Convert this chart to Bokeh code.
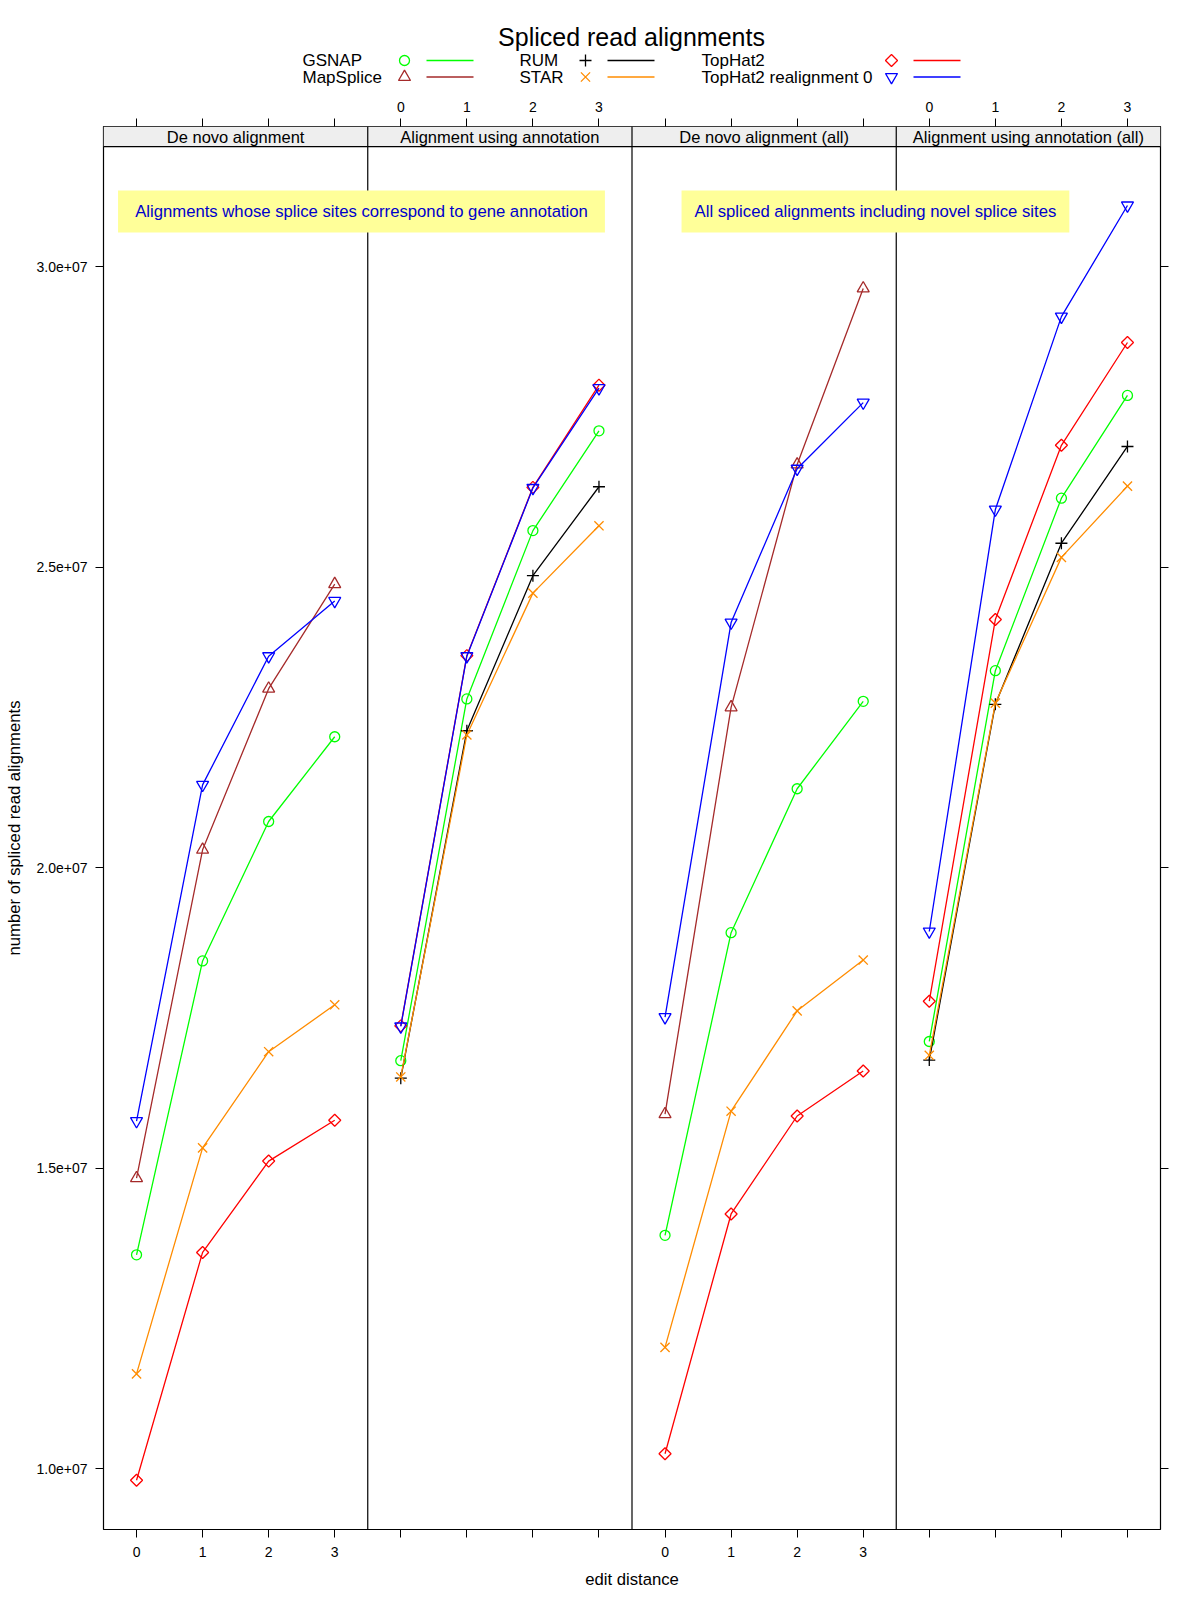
import math
from bokeh.plotting import figure
from bokeh.models import Range1d, LinearAxis, FixedTicker, ColumnDataSource
from bokeh.layouts import column
from bokeh.embed import file_html
from bokeh.resources import INLINE
from bokeh.core.properties import value

# ---------------- data ----------------
panels = ["De novo alignment", "Alignment using annotation",
          "De novo alignment (all)", "Alignment using annotation (all)"]
edit_distance = [0, 1, 2, 3]
methods = ["GSNAP", "MapSplice", "RUM", "STAR", "TopHat2", "TopHat2 realignment 0"]
colors = ["#00FF00", "#A52A2A", "#000000", "#FF8C00", "#FF0000", "#0000FF"]

# values per panel (None = method not shown in that panel)
gsnap = [[1.356e7, 1.845e7, 2.077e7, 2.218e7],
         [1.679e7, 2.281e7, 2.561e7, 2.727e7],
         [1.3885e7, 1.892e7, 2.1315e7, 2.277e7],
         [1.711e7, 2.328e7, 2.615e7, 2.786e7]]
mapsplice = [[1.4835e7, 2.030e7, 2.298e7, 2.472e7],
             None,
             [1.590e7, 2.267e7, 2.671e7, 2.964e7],
             None]
rum = [None,
       [1.650e7, 2.228e7, 2.486e7, 2.634e7],
       None,
       [1.680e7, 2.272e7, 2.540e7, 2.701e7]]
star = [[1.158e7, 1.534e7, 1.694e7, 1.772e7],
        [1.652e7, 2.221e7, 2.457e7, 2.569e7],
        [1.202e7, 1.595e7, 1.762e7, 1.8465e7],
        [1.688e7, 2.274e7, 2.5165e7, 2.635e7]]
tophat2 = [[9.81e6, 1.360e7, 1.512e7, 1.580e7],
           [1.737e7, 2.353e7, 2.633e7, 2.803e7],
           [1.025e7, 1.424e7, 1.587e7, 1.662e7],
           [1.778e7, 2.413e7, 2.703e7, 2.874e7]]
tophat2_realign0 = [[1.5785e7, 2.138e7, 2.352e7, 2.444e7],
                    [1.736e7, 2.352e7, 2.632e7, 2.798e7],
                    [1.7515e7, 2.408e7, 2.664e7, 2.774e7],
                    [1.894e7, 2.596e7, 2.917e7, 3.102e7]]
series = [gsnap, mapsplice, rum, star, tophat2, tophat2_realign0]

y_ticks = [1.0e7, 1.5e7, 2.0e7, 2.5e7, 3.0e7]
y_tick_labels = ["1.0e+07", "1.5e+07", "2.0e+07", "2.5e+07", "3.0e+07"]

notes = ["Alignments whose splice sites correspond to gene annotation",
         "All spliced alignments including novel splice sites"]

# ---------------- layout / style constants ----------------
FONT = "Liberation Sans"
W = 1184
HEAD_H = 90
MAIN_H = 1502
BL, BR = 103, 24           # left / right borders -> frame spans x 103..1160
FRAME_L, FRAME_R = BL, W - BR
marker_specs = [("circle", 10, 0.0), ("triangle", 12, 0.0), ("cross", 12, 0.0),
                ("x", 13, 0.0), ("square", 8.5, math.pi / 4), ("inverted_triangle", 12, 0.0)]

n_pan = len(panels)
n_ed = len(edit_distance)
x_lo, x_hi = -0.5, n_pan * n_ed - 0.5
y_lo, strip_lo, y_hi = 8.99e6, 3.2e7, 3.2334e7
note_x = [(-0.28, 7.09), (8.25, 14.12)]
note_y = (3.0569e7, 3.1268e7)

# ---------------- header (title + legend), page pixel coordinates ----------------
h = figure(width=W, height=HEAD_H, x_range=Range1d(FRAME_L, FRAME_R), y_range=Range1d(HEAD_H, 0),
           output_backend="svg", toolbar_location=None,
           x_axis_location=None, y_axis_location=None,
           min_border_left=BL, min_border_right=BR, min_border_top=0, min_border_bottom=0,
           outline_line_color=None)
h.grid.visible = False
h.text(x=[631], y=[36], text=["Spliced read alignments"], text_align="center",
       text_baseline="middle", text_font=value(FONT), text_font_size="25px", text_color="black")

col_text_x = [302, 519, 701]
col_sym_x = [404, 585, 891]
col_line_x = [(426, 473), (607, 654), (913, 960)]
row_y = [60, 76.5]
for i, (name, col, (mk, sz, ang)) in enumerate(zip(methods, colors, marker_specs)):
    c, r = i // 2, i % 2
    h.text(x=[col_text_x[c]], y=[row_y[r]], text=[name], text_align="left",
           text_baseline="middle", text_font=value(FONT), text_font_size="17px",
           text_color="black")
    h.scatter(x=[col_sym_x[c]], y=[row_y[r]], marker=mk, size=sz, angle=ang,
              line_color=col, fill_color=None, line_width=1.3)
    h.segment(x0=[col_line_x[c][0]], y0=[row_y[r]], x1=[col_line_x[c][1]], y1=[row_y[r]],
              line_color=col, line_width=1.3)

# ---------------- main panel figure ----------------
p = figure(width=W, height=MAIN_H, x_range=Range1d(x_lo, x_hi), y_range=Range1d(y_lo, y_hi),
           output_backend="svg", toolbar_location=None,
           x_axis_location=None, y_axis_location=None,
           min_border_left=BL, min_border_right=BR, min_border_top=36, min_border_bottom=63,
           outline_line_color="black", outline_line_width=1.2)
p.grid.visible = False

xt = [e + n_ed * i for i in range(n_pan) for e in edit_distance]
bot_over, top_over = {}, {}
for i in range(n_pan):
    for e in edit_distance:
        t = e + n_ed * i
        bot_over[t] = str(e) if i % 2 == 0 else ""
        top_over[t] = str(e) if i % 2 == 1 else ""


def style(ax, standoff):
    ax.axis_line_color = None
    ax.major_tick_line_color = "black"
    ax.major_tick_line_width = 1
    ax.major_tick_out = 8
    ax.major_tick_in = 0
    ax.minor_tick_line_color = None
    ax.major_label_text_font = FONT
    ax.major_label_text_font_size = "14px"
    ax.major_label_text_color = "black"
    ax.major_label_standoff = standoff
    ax.axis_label_text_font = FONT
    ax.axis_label_text_font_size = "16.7px"
    ax.axis_label_text_font_style = "normal"
    ax.axis_label_text_color = "black"


bottom = LinearAxis(ticker=FixedTicker(ticks=xt), major_label_overrides=bot_over,
                    axis_label="edit distance", axis_label_standoff=10)
top = LinearAxis(ticker=FixedTicker(ticks=xt), major_label_overrides=top_over)
left = LinearAxis(ticker=FixedTicker(ticks=y_ticks),
                  major_label_overrides=dict(zip(y_ticks, y_tick_labels)),
                  axis_label="number of spliced read alignments", axis_label_standoff=10)
right = LinearAxis(ticker=FixedTicker(ticks=y_ticks),
                   major_label_overrides={t: "" for t in y_ticks})
style(bottom, 9)
style(top, 7)
style(left, 8)
style(right, 4)
p.add_layout(bottom, "below")
p.add_layout(top, "above")
p.add_layout(left, "left")
p.add_layout(right, "right")

# strips
p.quad(left=[x_lo], right=[x_hi], bottom=[strip_lo], top=[y_hi],
       fill_color="#EEEEEE", line_color=None)
p.segment(x0=[x_lo], y0=[strip_lo], x1=[x_hi], y1=[strip_lo], line_color="black", line_width=1.2)
div_x = [n_ed * i - 0.5 for i in range(1, n_pan)]
p.segment(x0=div_x, y0=[y_lo] * len(div_x), x1=div_x, y1=[y_hi] * len(div_x),
          line_color="black", line_width=1.2)
p.text(x=[n_ed * i + (n_ed - 1) / 2 for i in range(n_pan)],
       y=[(strip_lo + y_hi) / 2] * n_pan, text=panels, text_align="center",
       text_baseline="middle", text_font=value(FONT), text_font_size="16.5px", text_color="black")

# annotation boxes
p.quad(left=[a for a, b in note_x], right=[b for a, b in note_x],
       bottom=[note_y[0]] * 2, top=[note_y[1]] * 2, fill_color="#FFFF99", line_color=None)
p.text(x=[(a + b) / 2 for a, b in note_x], y=[(note_y[0] + note_y[1]) / 2] * 2, text=notes,
       text_align="center", text_baseline="middle", text_font=value(FONT),
       text_font_size="16.7px", text_color="#0000CC")

# data
for name, vals, col, (mk, sz, ang) in zip(methods, series, colors, marker_specs):
    for i, pv in enumerate(vals):
        if pv is None:
            continue
        src = ColumnDataSource(dict(x=[e + n_ed * i for e in edit_distance], y=pv))
        p.line("x", "y", source=src, line_color=col, line_width=1.3)
        p.scatter("x", "y", source=src, marker=mk, size=sz, angle=ang,
                  line_color=col, fill_color=None, line_width=1.3)

layout = column(h, p)
open("out.html", "w").write(file_html(layout, INLINE))
